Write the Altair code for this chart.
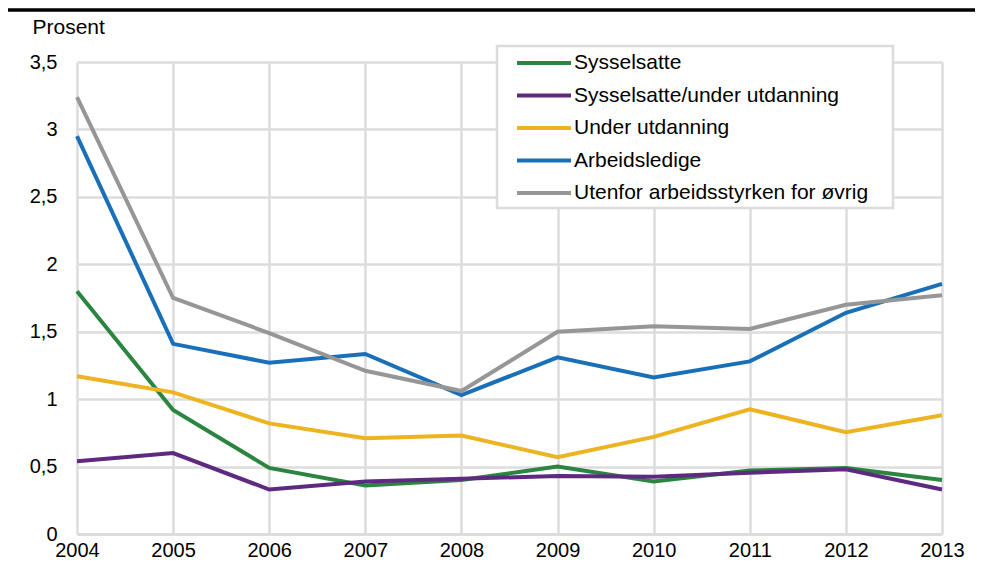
import altair as alt
import pandas as pd

years = [2004, 2005, 2006, 2007, 2008, 2009, 2010, 2011, 2012, 2013]
series_names = ["Sysselsatte", "Sysselsatte/under utdanning", "Under utdanning",
                "Arbeidsledige", "Utenfor arbeidsstyrken for øvrig"]
sysselsatte = [1.80, 0.92, 0.49, 0.36, 0.40, 0.50, 0.39, 0.47, 0.49, 0.40]
syss_utd = [0.54, 0.60, 0.33, 0.39, 0.41, 0.43, 0.425, 0.455, 0.48, 0.33]
under_utd = [1.17, 1.05, 0.82, 0.71, 0.73, 0.57, 0.72, 0.925, 0.755, 0.88]
arbeidsledige = [2.95, 1.41, 1.27, 1.335, 1.03, 1.31, 1.16, 1.28, 1.64, 1.855]
utenfor = [3.24, 1.75, 1.49, 1.21, 1.06, 1.50, 1.54, 1.52, 1.70, 1.77]
colors = ["#2A8540", "#5E2A80", "#EDB321", "#1A70B8", "#969696"]
y_ticks = [0, 0.5, 1, 1.5, 2, 2.5, 3, 3.5]

rows = []
for k, (name, vals) in enumerate(zip(series_names, [sysselsatte, syss_utd, under_utd, arbeidsledige, utenfor])):
    for y, v in zip(years, vals):
        rows.append({"year": y, "value": v, "series": name, "order": k})
df = pd.DataFrame(rows)

leg_df = pd.DataFrame({"series": series_names, "idx": list(range(len(series_names)))})

font = "Liberation Sans"
grid_col = "#dcdcdc"
color_scale = alt.Scale(domain=series_names, range=colors)

lines = alt.Chart(df).mark_line(strokeWidth=4).encode(
    x=alt.X("year:Q", scale=alt.Scale(domain=[2004, 2013], nice=False, zero=False),
            axis=alt.Axis(values=years, format="d", title=None, grid=True,
                          gridColor=grid_col, gridWidth=2.5, ticks=False,
                          domainColor=grid_col, domainWidth=3,
                          labelFontSize=20, labelPadding=6, labelColor="#000",
                          labelFont=font, labelFlush=False)),
    y=alt.Y("value:Q", scale=alt.Scale(domain=[0, 3.5], nice=False),
            axis=alt.Axis(values=y_ticks, grid=True, gridColor=grid_col, gridWidth=2.5,
                          domain=False, ticks=False, labelPadding=20,
                          labelFontSize=20, labelColor="#000", labelFont=font,
                          labelExpr="replace(format(datum.value, '~g'), '.', ',')",
                          title="Prosent", titleAngle=0, titleAlign="left",
                          titleBaseline="middle", titleX=-45, titleY=-35,
                          titleFontSize=21, titleFontWeight="normal",
                          titleFont=font, titleColor="#000")),
    color=alt.Color("series:N", scale=color_scale, legend=None),
    order=alt.Order("order:Q"),
    detail="series:N",
)

box = alt.Chart(pd.DataFrame({"a": [0]})).mark_rect(
    fill="white", stroke=grid_col, strokeWidth=2.5
).encode(x=alt.value(420), x2=alt.value(816), y=alt.value(-16), y2=alt.value(146))

leg_base = alt.Chart(leg_df).transform_calculate(py="1 + datum.idx * 32.5")

leg_lines = leg_base.mark_rule(strokeWidth=4).encode(
    x=alt.value(440), x2=alt.value(494),
    y=alt.Y("py:Q", scale=None, axis=None),
    color=alt.Color("series:N", scale=color_scale, legend=None),
)

leg_text = leg_base.mark_text(align="left", baseline="middle", fontSize=21,
                              font=font, color="#000").encode(
    x=alt.value(497),
    y=alt.Y("py:Q", scale=None, axis=None),
    text="series:N",
)

topbar = alt.Chart(pd.DataFrame({"a": [0]})).mark_rule(color="black", strokeWidth=3.5).encode(
    x=alt.value(-72), x2=alt.value(900), y=alt.value(-52)
)

chart = alt.layer(lines, box, leg_lines, leg_text, topbar).properties(
    width=865, height=472,
    padding={"left": 69, "top": 54, "right": 33, "bottom": 30},
    autosize=alt.AutoSizeParams(type="none"),
    background="white",
).configure_view(stroke=None)

chart.save("out.html", embed_options={"renderer": "svg", "actions": False})
